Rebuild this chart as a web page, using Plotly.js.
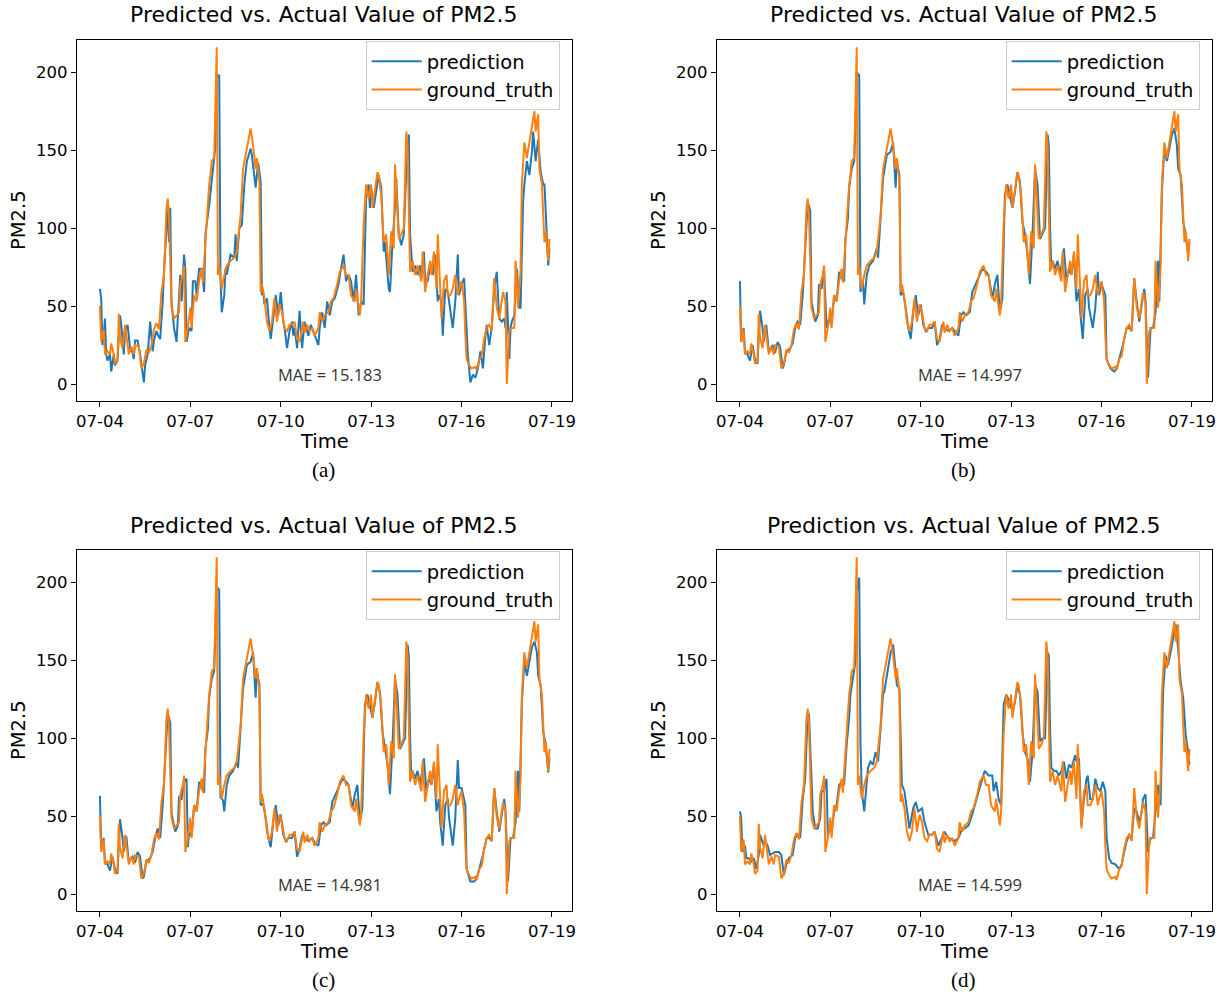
<!DOCTYPE html>
<html>
<head>
<meta charset="utf-8">
<script src="https://cdn.plot.ly/plotly-3.0.1.min.js"></script>
<style>
html,body{margin:0;padding:0;background:#fff;}
#chart{width:1222px;height:996px;}
</style>
</head>
<body>
<div id="chart"></div>
<script>
// Hours elapsed since 2021-07-04 00:00, and PM2.5 values
const gtHours = [0,1,3,4,6,8,9,11,12,14,15,16,18,20,23,25,27,28,31,33,35,37,39,41,43,45,47,49,51,53,54,55,57,59,61,63,64,66,67,68,70,72,73,75,77,79,81,82,84,85,87,88,89,91,92,93,94,95,97,99,101,104,107,109,112,114,117,120,122,124,125,127,128,129,131,133,135,137,139,141,143,145,147,149,151,153,155,157,159,162,163,165,167,169,171,174,175,177,179,182,184,186,189,191,194,196,198,200,203,204,207,208,210,212,214,216,217,219,221,222,224,226,228,230,232,234,235,236,238,240,242,244,245,246,247,249,251,253,255,256,257,259,261,263,264,266,268,269,271,272,274,276,277,279,281,283,285,286,288,290,291,292,294,296,299,300,302,304,306,308,310,312,314,316,318,320,321,323,324,326,328,330,331,333,335,336,338,340,342,344,346,347,349,350,352,354,355,357,358];
const gtValues = [50,27,35,19,21,19,26,19,13,15,45,30,23,38,19,24,19,25,24,10,13,22,20,25,35,39,35,59,70,113,119,108,49,42,44,46,64,70,76,27,36,49,36,57,53,66,74,65,91,104,128,134,143,145,181,216,70,76,61,70,76,79,81,85,108,138,151,164,153,138,145,130,59,64,55,40,34,40,55,40,51,46,36,34,38,38,40,29,27,40,33,38,34,36,31,36,46,40,44,46,53,55,64,72,76,70,70,57,53,61,44,53,102,128,119,128,113,123,136,134,121,91,96,70,98,87,141,126,93,96,100,162,153,110,72,79,70,76,70,66,85,59,70,79,70,85,61,96,61,42,66,70,57,57,61,70,57,61,66,53,31,16,12,10,11,9,16,18,29,36,38,34,68,49,42,53,59,53,0,34,36,36,79,49,74,128,155,145,155,166,175,162,173,138,128,91,98,79,93];

const predAHours = [0,1,2,3,4,5,6,8,9,11,12,14,16,17,19,20,22,24,26,27,28,30,32,34,35,36,38,40,42,43,45,47,48,50,51,54,55,56,57,59,61,62,64,65,67,68,69,71,73,74,76,77,79,81,83,84,86,87,89,91,92,93,95,96,97,99,100,101,104,107,108,109,111,113,115,117,120,121,123,124,126,128,129,130,131,133,135,136,138,140,142,144,146,147,149,151,153,154,155,157,159,161,163,166,168,170,172,174,175,177,179,181,183,185,187,190,192,194,196,198,200,202,204,206,208,210,212,214,215,216,218,220,222,224,226,227,230,231,233,235,236,238,240,242,244,246,247,249,251,253,255,256,258,259,261,263,265,267,269,270,272,273,275,277,279,281,283,285,286,288,290,292,293,295,297,299,301,303,305,307,308,310,312,314,316,318,320,322,323,324,326,327,328,330,332,334,335,337,338,340,342,344,345,347,349,351,353,354,356,357,358];
const predAValues = [61,55,25,31,42,19,15,19,8,19,12,15,44,38,19,34,38,23,20,16,28,28,19,9,1,12,19,40,21,28,34,30,29,53,72,113,91,113,53,36,27,42,70,53,83,74,27,36,34,66,66,57,74,74,59,96,108,115,130,143,153,198,198,68,46,57,74,70,83,81,96,79,100,102,128,143,151,147,134,126,142,130,57,59,51,55,36,29,42,57,44,59,40,36,23,34,40,31,36,23,47,23,40,31,38,34,29,25,36,46,36,53,44,53,55,64,74,83,66,70,66,53,70,44,53,51,121,128,113,126,113,123,134,126,85,91,61,59,91,113,132,96,89,96,138,160,96,72,76,70,76,68,85,66,66,76,70,83,53,57,53,31,61,59,46,36,53,83,57,64,68,40,19,1,6,4,10,21,10,31,38,25,36,61,72,42,40,42,36,59,16,36,40,44,74,49,49,117,128,143,134,149,162,143,157,136,128,128,96,76,87];

const predBHours = [0,1,3,4,6,8,10,12,14,16,18,19,21,23,26,28,30,32,34,35,37,40,42,44,46,48,50,51,54,56,57,60,62,63,65,67,69,71,73,75,77,79,81,83,84,86,87,89,91,92,93,95,96,98,99,101,103,106,109,110,112,114,117,120,122,124,125,127,128,130,132,134,136,138,140,142,144,146,148,150,153,155,157,159,161,163,166,169,171,174,176,178,180,183,185,188,191,193,196,198,201,203,205,207,209,211,213,215,217,219,221,223,225,227,229,231,233,235,237,239,241,243,245,246,247,248,249,251,253,255,258,260,262,264,266,268,270,271,273,275,277,278,281,283,285,286,288,291,292,295,298,300,303,305,308,310,312,314,316,318,320,322,323,325,327,329,331,333,334,336,338,340,342,344,346,348,349,351,353,355,357,358];
const predBValues = [66,27,36,21,19,15,25,16,13,47,36,27,38,21,25,20,27,24,10,12,21,23,26,36,40,38,57,70,117,111,53,40,44,64,61,74,36,42,38,57,53,72,68,66,93,106,126,138,143,164,200,198,59,66,51,70,76,79,87,81,104,132,147,149,155,126,143,134,57,59,49,36,29,46,57,44,51,38,34,36,36,40,25,29,38,36,34,36,34,31,44,46,44,46,59,64,70,74,72,70,55,64,70,46,55,121,128,121,113,123,136,130,104,96,83,64,96,138,128,93,96,100,160,153,100,74,79,74,79,70,87,66,74,70,83,53,61,46,29,57,61,49,36,49,72,57,64,57,16,10,8,10,19,25,36,36,34,68,53,40,51,61,53,4,36,36,46,79,53,123,151,143,151,160,164,153,138,134,104,96,83,91];

const predCHours = [0,1,3,4,6,8,10,12,14,16,18,19,21,23,26,28,30,32,34,35,37,40,42,44,46,48,50,51,54,56,57,60,62,63,65,67,69,70,71,73,75,77,79,81,83,84,86,87,89,91,92,93,95,96,98,99,101,103,106,109,110,112,114,117,120,122,124,125,127,128,130,132,134,136,138,140,142,144,146,148,150,153,155,157,159,161,163,166,169,171,174,176,178,180,183,185,188,191,193,196,198,201,203,205,207,209,211,213,215,217,219,221,223,225,227,229,231,233,235,237,239,241,243,245,246,247,248,249,251,253,255,258,260,262,264,266,268,270,271,273,275,277,278,281,283,285,286,288,291,292,295,298,300,303,305,308,310,312,314,316,318,320,322,323,325,327,329,331,333,334,336,338,340,342,344,346,348,349,351,353,355,357,358];
const predCValues = [63,30,36,20,19,15,24,16,13,48,36,27,37,21,24,20,27,24,10,11,21,23,27,36,42,36,57,70,116,110,52,40,44,62,61,72,74,30,40,37,57,53,72,68,65,93,106,126,138,143,164,197,195,62,60,53,70,76,79,85,81,104,132,147,149,155,126,143,134,57,58,49,36,30,46,57,44,51,38,34,36,36,40,24,29,38,36,34,36,33,31,44,46,44,46,59,64,70,74,72,70,55,64,70,46,55,121,128,121,113,123,136,130,104,94,83,64,96,138,128,93,96,100,160,153,100,74,79,74,79,70,87,66,74,70,83,53,61,46,31,57,61,49,31,49,86,68,68,57,16,8,8,10,19,25,36,36,34,68,53,40,51,61,53,8,36,36,46,79,53,123,149,140,149,158,162,155,140,134,104,96,78,87];

const predDHours = [0,1,2,4,5,7,9,11,13,15,16,19,20,22,24,26,28,31,33,35,37,39,42,44,46,48,50,52,54,55,57,58,60,62,64,65,67,69,70,72,73,75,77,79,81,83,85,87,88,90,92,93,95,96,97,99,101,102,104,106,108,110,112,114,115,117,120,122,124,125,127,129,131,133,135,138,140,142,145,147,150,153,155,158,161,163,166,169,171,174,177,179,182,185,187,190,193,195,198,201,202,204,206,208,210,212,215,217,219,221,223,225,227,229,231,233,235,237,239,241,243,245,246,247,248,250,252,254,256,258,260,262,264,267,268,270,272,274,276,277,279,281,283,285,287,289,291,292,294,296,299,302,304,306,308,310,312,314,316,318,320,321,323,325,327,329,331,333,335,337,339,341,343,345,347,349,351,353,355,357,358];
const predDValues = [53,49,27,31,23,23,21,23,16,25,38,31,34,31,25,26,27,27,25,12,19,23,25,36,38,36,61,74,117,115,74,53,42,42,49,66,66,74,36,46,40,53,57,70,72,70,96,113,128,138,149,193,203,96,66,53,70,81,85,83,91,85,106,128,130,141,155,160,141,134,132,70,66,55,42,55,59,53,55,46,38,38,40,31,36,40,36,35,34,36,42,42,44,51,57,66,74,79,76,76,66,72,61,57,121,128,123,117,123,134,128,104,91,87,72,91,134,130,98,100,100,155,153,104,81,79,79,76,79,85,74,83,81,89,85,87,44,61,74,76,61,61,74,68,66,72,66,36,23,20,19,16,19,27,34,38,36,55,53,46,53,61,64,27,36,36,53,70,57,130,153,147,155,164,173,157,136,126,102,91,83];

const maeTexts = ['MAE = 15.183','MAE = 14.997','MAE = 14.981','MAE = 14.599'];
const panelTitles = ['Predicted vs. Actual Value of PM2.5','Predicted vs. Actual Value of PM2.5','Predicted vs. Actual Value of PM2.5','Prediction vs. Actual Value of PM2.5'];
const subCaptions = ['(a)','(b)','(c)','(d)'];
const seriesNames = ['prediction','ground_truth'];
const yTicks = [0,50,100,150,200];

function toDate(h){
  const d = new Date(Date.UTC(2021,6,4) + h*3600000);
  return d.toISOString().slice(0,19).replace('T',' ');
}
const W = 1222, H = 996;
const BLUE = '#1f77b4', ORANGE = '#ff7f0e';
const FONT = 'DejaVu Sans';

// panel geometry in pixels
const panels = [
  {x0:76.7, x1:571.7, y0:40, y1:400.7},
  {x0:716.7, x1:1211.7, y0:40, y1:400.7},
  {x0:76.7, x1:571.7, y0:550, y1:910.7},
  {x0:716.7, x1:1211.7, y0:550, y1:910.7}
];
const preds = [[predAHours,predAValues],[predBHours,predBValues],[predCHours,predCValues],[predDHours,predDValues]];
const gtX = gtHours.map(toDate);

const traces = [];
const layout = {
  width:W, height:H, margin:{l:0,r:0,t:0,b:0},
  paper_bgcolor:'#fff', plot_bgcolor:'#fff',
  showlegend:true, font:{family:FONT, color:'#000'},
  annotations:[]
};
panels.forEach((p,i)=>{
  const n = i===0 ? '' : String(i+1);
  const xa = 'x'+n, ya = 'y'+n;
  const leg = i===0 ? 'legend' : 'legend'+(i+1);
  traces.push({x:preds[i][0].map(toDate), y:preds[i][1], type:'scatter', mode:'lines', name:seriesNames[0],
    line:{color:BLUE,width:2}, xaxis:xa, yaxis:ya, legend:leg});
  traces.push({x:gtX, y:gtValues, type:'scatter', mode:'lines', name:seriesNames[1],
    line:{color:ORANGE,width:2}, xaxis:xa, yaxis:ya, legend:leg});
  const dx = [p.x0/W, p.x1/W], dy = [1-p.y1/H, 1-p.y0/H];
  layout['xaxis'+n] = {domain:dx, anchor:ya, type:'date',
    range:[toDate(-18.5), toDate(375.7)], tick0:'2021-07-04', dtick:3*86400000, tickformat:'%m-%d',
    showgrid:false, zeroline:false, showline:true, linecolor:'#000', linewidth:1, mirror:true,
    ticks:'outside', ticklen:5, tickwidth:1, tickcolor:'#000', tickfont:{family:FONT,size:16.5,color:'#000'}};
  layout['yaxis'+n] = {domain:dy, anchor:xa, range:[-10.7,220.7], tickvals:yTicks,
    showgrid:false, zeroline:false, showline:true, linecolor:'#000', linewidth:1, mirror:true,
    ticks:'outside', ticklen:5, tickwidth:1, tickcolor:'#000', tickfont:{family:FONT,size:16.5,color:'#000'}};
  layout[leg] = {x:(p.x1-206)/W, y:1-(p.y0+1)/H, xanchor:'left', yanchor:'top',
    bgcolor:'rgba(255,255,255,0.8)', bordercolor:'#cccccc', borderwidth:1,
    font:{family:FONT,size:19.5,color:'#000'}, itemwidth:50, tracegroupgap:0};
  const cx = (p.x0+p.x1)/2;
  layout.annotations.push({xref:'paper',yref:'paper',x:cx/W,y:1-(p.y0-25)/H,text:panelTitles[i],showarrow:false,
    xanchor:'center',yanchor:'middle',font:{family:FONT,size:22,color:'#000'}});
  layout.annotations.push({xref:'paper',yref:'paper',x:cx/W,y:1-(p.y1+41)/H,text:'Time',showarrow:false,
    xanchor:'center',yanchor:'middle',font:{family:FONT,size:19.5,color:'#000'}});
  layout.annotations.push({xref:'paper',yref:'paper',x:(p.x0-58)/W,y:1-((p.y0+p.y1)/2)/H,text:'PM2.5',showarrow:false,
    textangle:-90,xanchor:'center',yanchor:'middle',font:{family:FONT,size:19.5,color:'#000'}});
  layout.annotations.push({xref:'paper',yref:'paper',x:(cx+6)/W,y:1-(p.y1-26)/H,text:maeTexts[i],showarrow:false,
    xanchor:'center',yanchor:'middle',font:{family:'Open Sans',size:16.5,color:'#333'}});
  layout.annotations.push({xref:'paper',yref:'paper',x:(cx-1)/W,y:1-(p.y1+69)/H,text:subCaptions[i],showarrow:false,
    xanchor:'center',yanchor:'middle',font:{family:'Liberation Serif',size:21,color:'#000'}});
});
Plotly.newPlot('chart', traces, layout, {staticPlot:true, displayModeBar:false});
</script>
</body>
</html>
